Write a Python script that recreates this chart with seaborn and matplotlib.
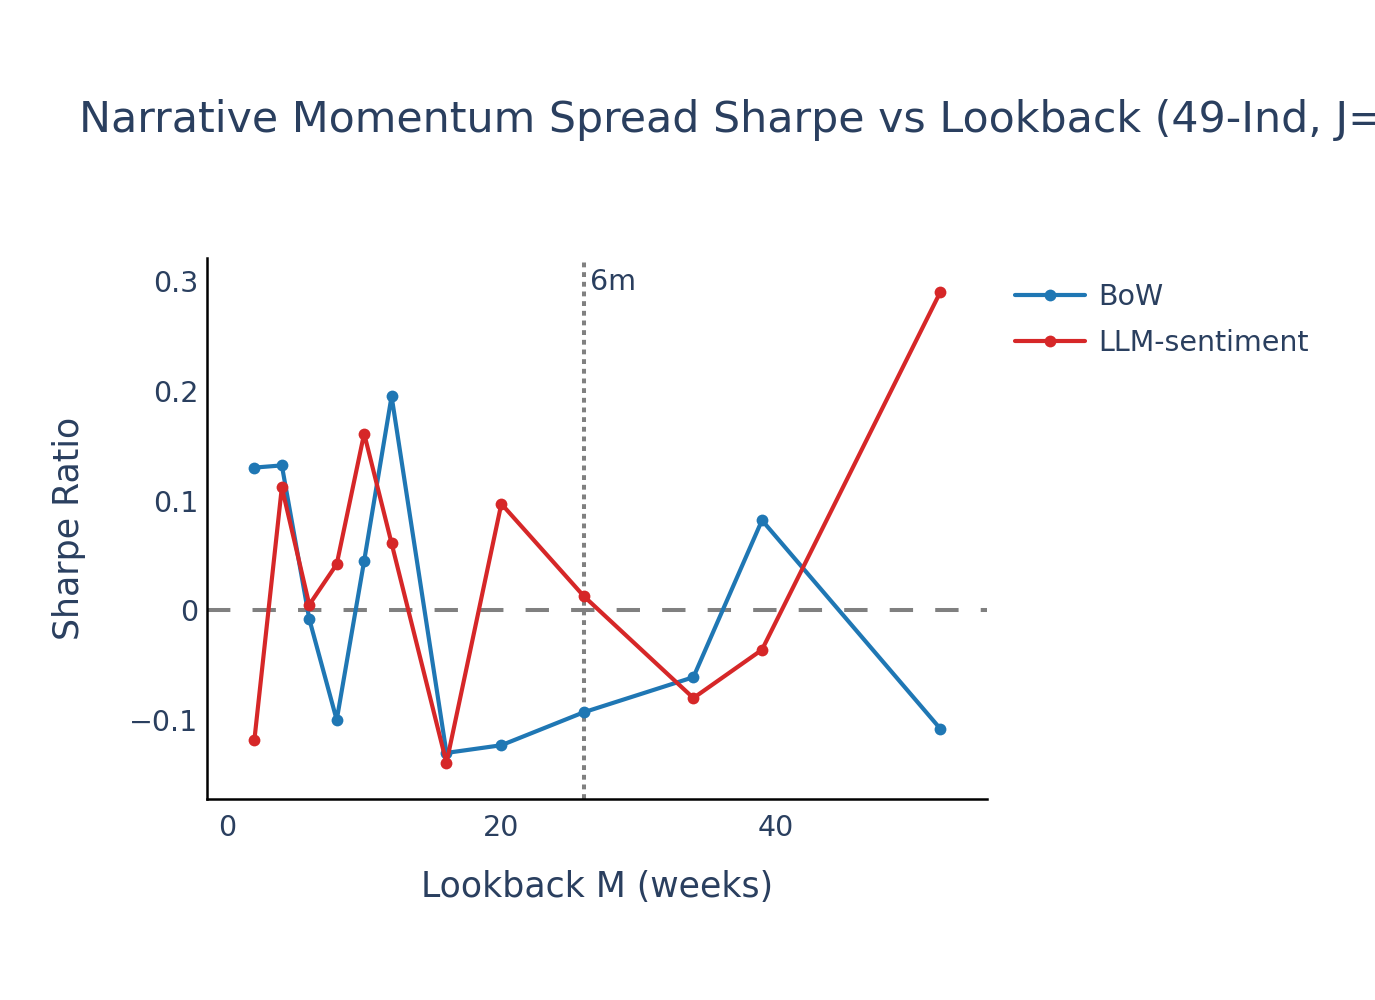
import pandas as pd
import matplotlib.pyplot as plt
import seaborn as sns

# Lookback horizons (weeks) and spread Sharpe ratios
lookback = [2, 4, 6, 8, 10, 12, 16, 20, 26, 34, 39, 52]
bow_sharpe = [0.130, 0.132, -0.008, -0.100, 0.045, 0.195, -0.130, -0.123, -0.093, -0.061, 0.082, -0.108]
llm_sharpe = [-0.118, 0.112, 0.005, 0.042, 0.161, 0.061, -0.139, 0.097, 0.013, -0.080, -0.036, 0.290]
series_names = ["BoW", "LLM-sentiment"]
palette = {"BoW": "#1f77b4", "LLM-sentiment": "#d62728"}

x_ticks = [0, 20, 40]
y_ticks = [0.3, 0.2, 0.1, 0.0, -0.1]
y_tick_labels = ["0.3", "0.2", "0.1", "0", "\u22120.1"]
marker_week = 26

TEXT = "#2a3f5f"
# the reference title runs off the right edge of the canvas
TITLE = "Narrative Momentum Spread Sharpe vs Lookback (49-Ind, J="


def build_frame():
    df = pd.concat([
        pd.DataFrame({"M": lookback, "Sharpe": bow_sharpe, "Signal": series_names[0]}),
        pd.DataFrame({"M": lookback, "Sharpe": llm_sharpe, "Signal": series_names[1]}),
    ], ignore_index=True)
    return df


def main():
    sns.set_style("white")
    plt.rcParams['font.family'] = ['DejaVu Sans']

    df = build_frame()

    fig = plt.figure(figsize=(13.75, 10), dpi=100)
    ax = fig.add_axes([0.1505, 0.201, 0.5673, 0.541])

    # reference lines
    ax.axhline(0, color="#808080", lw=2.9, ls=(0, (5.8, 5.5)), zorder=1)
    ax.axvline(marker_week, color="#808080", lw=2.9, ls=(0, (1.2, 1.2)), zorder=1)
    ax.text(marker_week + 0.45, 0.299, "6m", color=TEXT, fontsize=20.5,
            ha="left", va="center")

    sns.lineplot(data=df, x="M", y="Sharpe", hue="Signal", palette=palette,
                 marker="o", markersize=8.5, markeredgewidth=0, linewidth=3,
                 ax=ax, zorder=3)

    ax.set_xlim(-1.46, 55.4)
    ax.set_ylim(-0.172, 0.321)
    ax.set_xticks(x_ticks)
    ax.set_yticks(y_ticks)
    ax.set_yticklabels(y_tick_labels)
    ax.tick_params(axis="both", length=0, labelsize=20.5, labelcolor=TEXT)
    ax.tick_params(axis="x", pad=11)
    ax.tick_params(axis="y", pad=6)

    for side in ["top", "right"]:
        ax.spines[side].set_visible(False)
    for side in ["left", "bottom"]:
        ax.spines[side].set_color("black")
        ax.spines[side].set_linewidth(1.8)

    ax.set_xlabel("Lookback M (weeks)", fontsize=25, color=TEXT, labelpad=20)
    ax.set_ylabel("Sharpe Ratio", fontsize=25, color=TEXT, labelpad=31)

    handles, labels = ax.get_legend_handles_labels()
    ax.legend(handles, labels, loc="upper left", bbox_to_anchor=(0.738, 0.717),
              bbox_transform=fig.transFigure, frameon=False, fontsize=20.5,
              handlelength=2.47, handletextpad=0.47, labelspacing=0.64,
              labelcolor=TEXT, borderaxespad=0, borderpad=0)

    fig.text(0.0575, 0.88, TITLE, fontsize=30.8, color=TEXT, ha="left", va="center")

    plt.savefig("out.png", dpi=100)
    plt.close()


if __name__ == "__main__":
    main()
